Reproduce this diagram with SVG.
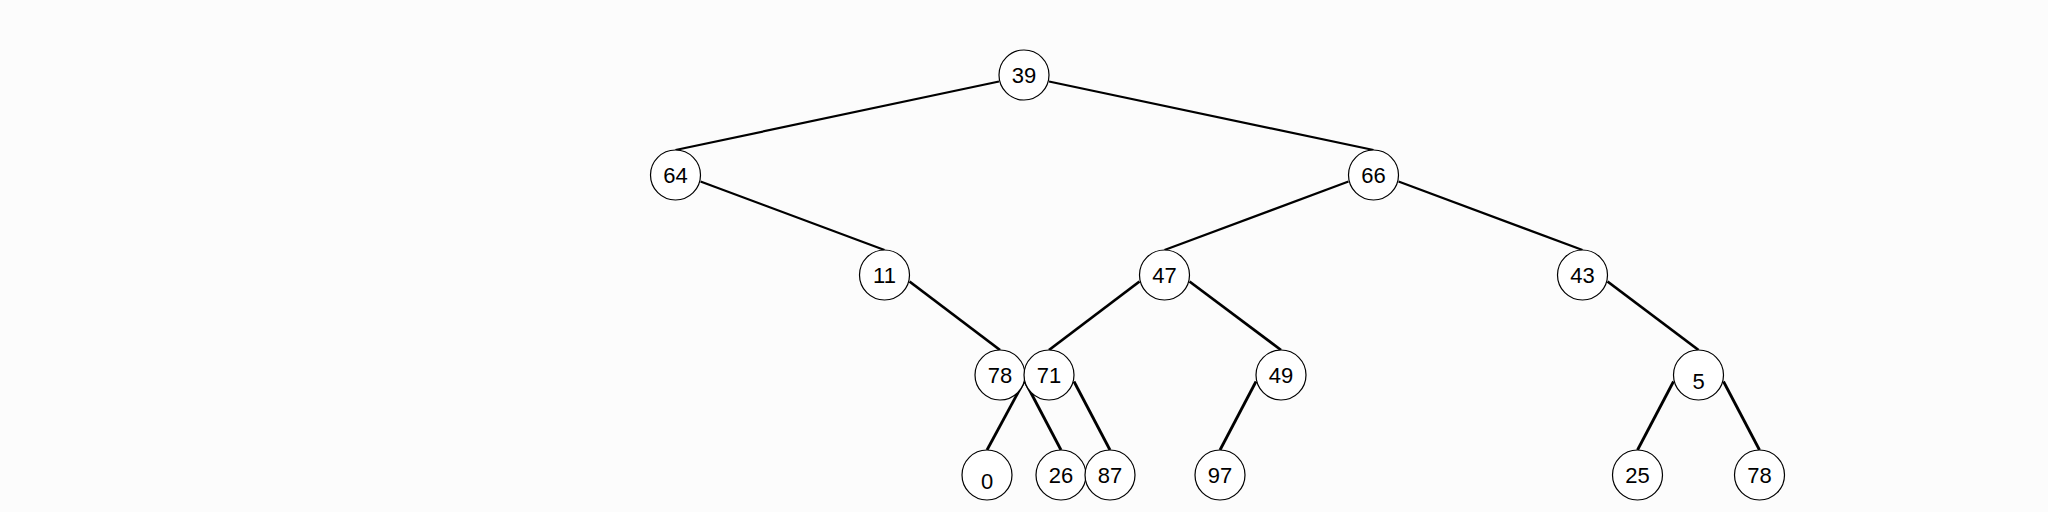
<svg xmlns="http://www.w3.org/2000/svg" width="2048" height="512" viewBox="0 0 2048 512">
<style>
.e{stroke:#000;stroke-width:2.2;fill:none}
.t{stroke-width:2.8}
.n circle{fill:#fff;stroke:#000;stroke-width:1.2}
.n text{font-family:"Liberation Sans",Arial,sans-serif;font-size:22px;fill:#000;text-anchor:middle}
</style>
<rect width="2048" height="512" fill="#fcfcfc"/>
<g id="connectors">
<line class="e" x1="999" y1="81.5" x2="675.5" y2="150"/>
<line class="e" x1="1049" y1="81.5" x2="1373.5" y2="150"/>
<line class="e" x1="700.5" y1="181.5" x2="884.5" y2="250"/>
<line class="e" x1="1348.5" y1="181.5" x2="1164.5" y2="250"/>
<line class="e" x1="1398.5" y1="181.5" x2="1582.5" y2="250"/>
<line class="e t" x1="909.5" y1="281.5" x2="1000" y2="350"/>
<line class="e t" x1="1139.5" y1="281.5" x2="1049" y2="350"/>
<line class="e t" x1="1189.5" y1="281.5" x2="1281" y2="350"/>
<line class="e t" x1="1607.5" y1="281.5" x2="1698.5" y2="350"/>
<line class="e t" x1="1025" y1="381.5" x2="1061" y2="450"/>
<line class="e t" x1="1024" y1="381.5" x2="987" y2="450"/>
<line class="e t" x1="1074" y1="381.5" x2="1110" y2="450"/>
<line class="e t" x1="1256" y1="381.5" x2="1220" y2="450"/>
<line class="e t" x1="1673.5" y1="381.5" x2="1637.5" y2="450"/>
<line class="e t" x1="1723.5" y1="381.5" x2="1759.5" y2="450"/>
</g>
<g id="n39" class="n"><circle cx="1024" cy="75" r="25"/><text x="1024" y="83">39</text></g>
<g id="n64" class="n"><circle cx="675.5" cy="175" r="25"/><text x="675.5" y="183">64</text></g>
<g id="n66" class="n"><circle cx="1373.5" cy="175" r="25"/><text x="1373.5" y="183">66</text></g>
<g id="n11" class="n"><circle cx="884.5" cy="275" r="25"/><text x="884.5" y="283">11</text></g>
<g id="n47" class="n"><circle cx="1164.5" cy="275" r="25"/><text x="1164.5" y="283">47</text></g>
<g id="n43" class="n"><circle cx="1582.5" cy="275" r="25"/><text x="1582.5" y="283">43</text></g>
<g id="n78a" class="n"><circle cx="1000" cy="375" r="25"/><text x="1000" y="383">78</text></g>
<g id="n71" class="n"><circle cx="1049" cy="375" r="25"/><text x="1049" y="383">71</text></g>
<g id="n49" class="n"><circle cx="1281" cy="375" r="25"/><text x="1281" y="383">49</text></g>
<g id="n5" class="n"><circle cx="1698.5" cy="375" r="25"/><text x="1698.5" y="389">5</text></g>
<g id="n0" class="n"><circle cx="987" cy="475" r="25"/><text x="987" y="489">0</text></g>
<g id="n26" class="n"><circle cx="1061" cy="475" r="25"/><text x="1061" y="483">26</text></g>
<g id="n87" class="n"><circle cx="1110" cy="475" r="25"/><text x="1110" y="483">87</text></g>
<g id="n97" class="n"><circle cx="1220" cy="475" r="25"/><text x="1220" y="483">97</text></g>
<g id="n25" class="n"><circle cx="1637.5" cy="475" r="25"/><text x="1637.5" y="483">25</text></g>
<g id="n78b" class="n"><circle cx="1759.5" cy="475" r="25"/><text x="1759.5" y="483">78</text></g>
</svg>
